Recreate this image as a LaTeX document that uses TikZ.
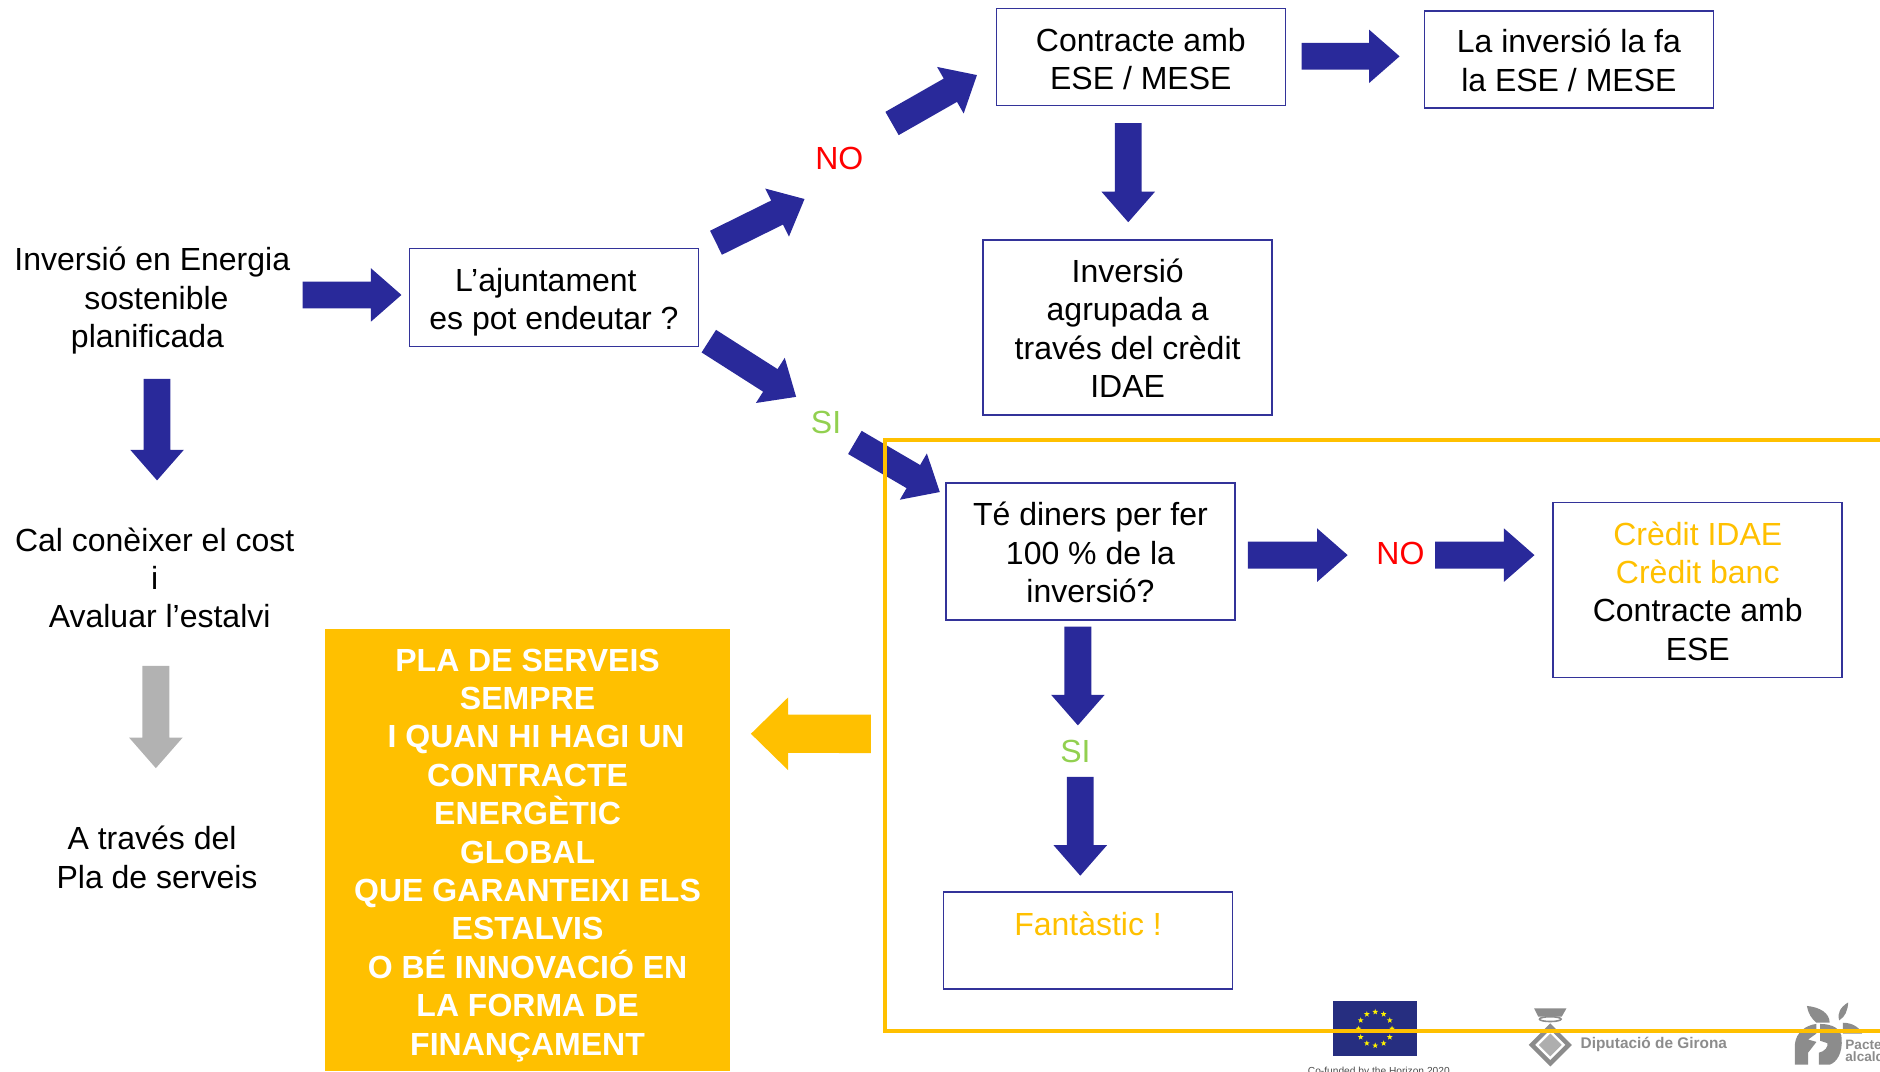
\documentclass[tikz,border=0pt]{standalone}
\usepackage{fontspec}
\setmainfont{Liberation Sans}
\usepackage{xcolor}
\usetikzlibrary{calc, positioning, shapes.geometric}
\definecolor{blau}{HTML}{29299A}
\definecolor{vora}{HTML}{333399}
\definecolor{groc}{HTML}{FFC000}
\definecolor{verd}{HTML}{92D050}
\definecolor{gris}{HTML}{B2B2B2}
\definecolor{grislogo}{HTML}{8C8C8C}
\definecolor{blaueu}{HTML}{262E80}
\newcommand{\baixa}[1]{\rule{0pt}{#1}}
\tikzset{
	textgran/.style = {font=\fontsize{16}{19.2}\selectfont, align=center, inner sep=0pt},
	caixa/.style = {textgran, draw=vora, line width=0.8pt, minimum width=144.5pt},
	etiqueta/.style = {font=\fontsize{16}{19.2}\selectfont, inner sep=0pt},
	formafletxa/.style n args = {3}{to path={
		let \p1 = ($(\tikztotarget)!#2!(\tikztostart)$) in
		-- ($(\tikztostart)!#1!90:(\tikztotarget)$)
		-- ($(\p1)!#1!90:(\tikztotarget)$)
		-- ($(\p1)!#3!90:(\tikztotarget)$)
		-- (\tikztotarget)
		-- ($(\p1)!#3!-90:(\tikztotarget)$)
		-- ($(\p1)!#1!-90:(\tikztotarget)$)
		-- ($(\tikztostart)!#1!-90:(\tikztotarget)$)
		-- cycle}},
	fletxa/.style = {fill=blau, formafletxa={6.7pt}{15.3pt}{13.4pt}},
	fletxagrisa/.style = {fill=gris, formafletxa={6.7pt}{15.3pt}{13.4pt}},
	fletxagroga/.style = {fill=groc, formafletxa={9.6pt}{18.6pt}{18.2pt}},
	estrella/.style = {star, star points=5, star point ratio=2.4, fill=yellow, inner sep=0pt, minimum size=3pt}
}
\begin{document}
\begin{tikzpicture} [x=0.5995pt, y=-0.5995pt]
	\useasboundingbox (0,0) rectangle (1568,893.3);

	\node [textgran] (inversio) at (127,251) {Inversió en Energia\\ \hspace*{4.2pt}sostenible\\ planificada\hspace*{4.8pt}};
	\node [textgran] (cost) at (129,482) {Cal conèixer el cost\\ i\\ \hspace*{5pt}Avaluar l’estalvi};
	\node [textgran] (pla) at (131,715) {A través del\hspace*{5pt}\\ Pla de serveis};

	\node [caixa, minimum height=49pt] (ajuntament) at (462,248)
	{\baixa{16.5pt}L’ajuntament\hspace*{8pt}\\ es pot endeutar ?};
	\node [caixa, minimum height=48.5pt] (contracte) at (951.5,47.5) {\baixa{13.5pt}Contracte amb\\ ESE / MESE};
	\node [caixa, minimum height=48.5pt] (inversiofa) at (1308.5,49.5) {\baixa{12.9pt}La inversió la fa\\ la ESE / MESE};
	\node [caixa, minimum height=87.5pt] (agrupada) at (940.5,273)
	{\baixa{12.7pt}Inversió\\ agrupada a\\ través del crèdit\\ IDAE};
	\node [caixa, minimum height=68.3pt] (diners) at (909.5,460)
	{\baixa{13pt}Té diners per fer\\ 100 \% de la\\ inversió?};
	\node [caixa, minimum height=87.5pt] (credit) at (1416,492)
	{\baixa{12.9pt}\textcolor{groc}{Crèdit IDAE}\\ \textcolor{groc}{Crèdit banc}\\ Contracte amb\\ ESE};
	\node [caixa, minimum height=48.5pt] (fantastic) at (907.5,784.5) {\baixa{14.1pt}\textcolor{groc}{Fantàstic !}\\ ~};

	\node [etiqueta, red] (no1) at (700,132) {NO};
	\node [etiqueta, red] (no2) at (1168,462) {NO};
	\node [etiqueta, verd] (si1) at (689,352) {SI};
	\node [etiqueta, verd] (si2) at (897,627) {SI};

	\node [textgran, fill=groc, text=white, font=\fontsize{16}{19.2}\selectfont\bfseries,
	minimum width=202.6pt, minimum height=220.6pt] (serveis) at (440,709)
	{\baixa{16.3pt}PLA DE SERVEIS\\ SEMPRE\\ \hspace*{8.5pt}I QUAN HI HAGI UN\\ CONTRACTE\\ ENERGÈTIC\\ GLOBAL\\
	QUE GARANTEIXI ELS\\ ESTALVIS\\ O BÉ INNOVACIÓ EN\\ LA FORMA DE\\ FINANÇAMENT};

	\path [fletxa] ([shift={(10,-5)}]inversio.east) to ([shift={(-6,-2)}]ajuntament.west);
	\path [fletxa] ([shift={(4,20)}]inversio.south) to ([shift={(2,-39)}]cost.north);
	\path [fletxagrisa] ([shift={(1,31)}]cost.south) to ([shift={(-1,-48)}]pla.north);

	\path [fletxa] ([shift={(14,-4)}]ajuntament.north east) to ([shift={(-29,34)}]no1.center);
	\path [fletxa] ([shift={(44,-29)}]no1.center) to ([shift={(-15.5,-26)}]contracte.south west);
	\path [fletxa] ([shift={(13,-0.5)}]contracte.east) to ([shift={(-20,-2.5)}]inversiofa.west);
	\path [fletxa] ([shift={(-10.5,14)}]contracte.south) to ([shift={(0.5,-14)}]agrupada.north);

	\path [fletxa] ([shift={(8,-5)}]ajuntament.south east) to ([shift={(-25,-21)}]si1.center);
	\path [fletxa] ([shift={(24,17)}]si1.center) to ([shift={(-4.5,8)}]diners.north west);
	\path [fletxa] ([shift={(10,3)}]diners.east) to ([shift={(-44,1)}]no2.center);
	\path [fletxa] ([shift={(29,1)}]no2.center) to ([shift={(-15,-29)}]credit.west);
	\path [fletxa] ([shift={(-10.5,5)}]diners.south) to ([shift={(2,-22)}]si2.center);
	\path [fletxa] ([shift={(4,21)}]si2.center) to ([shift={(-6.5,-13)}]fantastic.north);

	\path [fletxagroga] ([shift={(-62,94.4)}]diners.south west) to ([shift={(17,-97)}]serveis.east);

	\fill [blaueu] (1112,835) rectangle (1182,881);
	\foreach \angle in {0,30,...,330}
		\node [estrella] (estrella\angle) at ($(1147,858)+(\angle:14)$) {};
	\node [font=\fontsize{5.1}{6}\selectfont, text=black!70, inner sep=0pt, anchor=north] (horizon)
	at (1150,889.5) {Co-funded by the Horizon 2020};

	\fill [grislogo] (1279.5,841) -- (1306.5,841) -- (1302.5,848) -- (1283,848) -- cycle;
	\draw [grislogo, line width=0.8pt] (1293,850) ellipse (9 and 2);
	\fill [grislogo] (1293,853.5) -- (1311,871.5) -- (1293,889.5) -- (1275,871.5) -- cycle;
	\fill [white] (1293,859) -- (1305.5,871.5) -- (1293,884) -- (1280.5,871.5) -- cycle;
	\fill [grislogo!70] (1293,862) -- (1302.5,871.5) -- (1293,881) -- (1283.5,871.5) -- cycle;
	\node [font=\fontsize{7.7}{9}\selectfont\bfseries, text=grislogo, inner sep=0pt, anchor=west] (diputacio)
	at (1318,871.5) {Diputació de Girona};

	\fill [grislogo] (1507,839) .. controls (1518,840) and (1526,845) .. (1526,853) -- (1515,853) .. controls (1511,850) and (1508,845) .. (1507,839);
	\fill [grislogo] (1541.5,836) .. controls (1541,843) and (1539,848) .. (1534,851) .. controls (1532,845) and (1535,840) .. (1541.5,836);
	\fill [grislogo] (1537,853) .. controls (1545,853) and (1551,857) .. (1553,862) -- (1537,862) -- cycle;
	\fill [grislogo] (1497,888) -- (1497,871) .. controls (1498,861) and (1506,855) .. (1515,854) -- (1515,862) -- (1508,867) -- (1515,869) -- (1508,878) -- (1508,888) -- cycle;
	\fill [grislogo] (1518,854) .. controls (1528,854) and (1536,858) .. (1536,866) .. controls (1537,878) and (1532,886) .. (1526,888) -- (1517,888) -- (1517,878) .. controls (1522,877) and (1525,873) .. (1524,870) -- (1518,868) -- cycle;
	\node [font=\fontsize{6.8}{6}\selectfont\bfseries, text=grislogo, inner sep=0pt, anchor=north west, align=left] (pacte)
	at (1538.8,867.2) {Pacte\\ alcald};

	\draw [groc, line width=2pt] (1568,367) -- (738,367) -- (738,860) -- (1568,860);
\end{tikzpicture}
\end{document}
